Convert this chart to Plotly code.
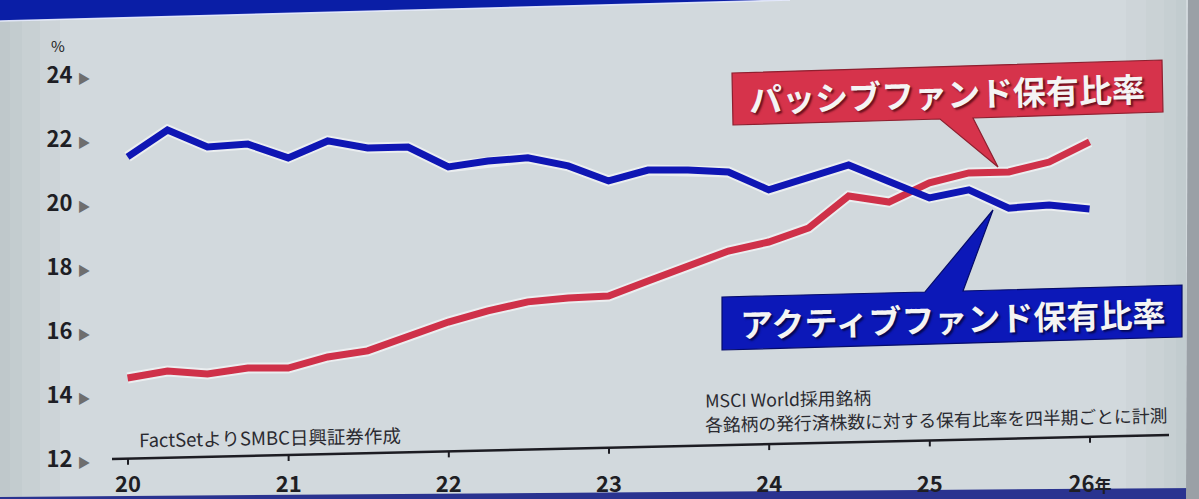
import plotly.graph_objects as go
import pandas as pd

# ---------------- data ----------------
quarters = ["2019-12-31", "2020-03-31", "2020-06-30", "2020-09-30", "2020-12-31",
            "2021-03-31", "2021-06-30", "2021-09-30", "2021-12-31",
            "2022-03-31", "2022-06-30", "2022-09-30", "2022-12-31",
            "2023-03-31", "2023-06-30", "2023-09-30", "2023-12-31",
            "2024-03-31", "2024-06-30", "2024-09-30", "2024-12-31",
            "2025-03-31", "2025-06-30", "2025-09-30", "2025-12-31"]
active_share = [21.44, 22.28, 21.75, 21.84, 21.41, 21.94, 21.72, 21.75, 21.13,
                21.31, 21.41, 21.16, 20.69, 21.03, 21.03, 20.97, 20.41, 20.78,
                21.19, 20.67, 20.16, 20.41, 19.84, 19.94, 19.81]
passive_share = [14.53, 14.75, 14.66, 14.84, 14.84, 15.19, 15.38, 15.84, 16.28,
                 16.63, 16.91, 17.03, 17.09, 17.56, 18.03, 18.50, 18.78, 19.22,
                 20.22, 20.03, 20.63, 20.94, 20.97, 21.28, 21.91]
year_tick_dates = ["2020-01-01", "2021-01-01", "2022-01-01", "2023-01-01",
                   "2024-01-01", "2025-01-01", "2026-01-01"]
year_tick_labels = ["20", "21", "22", "23", "24", "25", "26<span style='font-size:17px'>年</span>"]
y_tick_values = [12, 14, 16, 18, 20, 22, 24]
y_tick_labels = [f"{v} <span style='font-size:13px;color:#6e6e6e'>▶</span>" for v in y_tick_values]

passive_label = "パッシブファンド保有比率"
active_label = "アクティブファンド保有比率"
source_note = "FactSetよりSMBC日興証券作成"
note_line1 = "MSCI World採用銘柄"
note_line2 = "各銘柄の発行済株数に対する保有比率を四半期ごとに計測"

# ---------------- layout helpers (pixel -> paper) ----------------
W, H = 1199, 499
def px(x):
    return x / W
def py(y):
    return 1 - y / H

PLOT_L, PLOT_R = 112, 1169
Y_TOP, Y_BOT = 75, 459          # pixel rows of 24 and 12
X20, X26 = 128, 1090            # pixel columns of 2020 and 2026 ticks
t20 = pd.Timestamp("2020-01-01")
t26 = pd.Timestamp("2026-01-01")
ppd = (X26 - X20) / (t26 - t20).days
x_start = t20 - pd.Timedelta(days=(X20 - PLOT_L) / ppd)
x_end = t26 + pd.Timedelta(days=(PLOT_R - X26) / ppd)

def axis_y(xp):  # the photographed axis line is slightly tilted
    return 459 - 24 * (xp - 112) / 1057

FONT = "Noto Sans CJK JP"
BLUE = "#0f16b4"
RED = "#cf3149"

fig = go.Figure()

# light halo under the lines
for ys in (passive_share, active_share):
    fig.add_trace(go.Scatter(x=quarters, y=ys, mode="lines",
                             line=dict(color="rgba(255,255,255,0.55)", width=11),
                             hoverinfo="skip", showlegend=False))
fig.add_trace(go.Scatter(x=quarters, y=passive_share, mode="lines", name=passive_label,
                         line=dict(color=RED, width=7), showlegend=False))
fig.add_trace(go.Scatter(x=quarters, y=active_share, mode="lines", name=active_label,
                         line=dict(color=BLUE, width=7), showlegend=False))

shapes = []
# subtle vignette toward the left and right edges of the photographed screen
for i, w in enumerate([60, 40, 22, 10]):
    shapes.append(dict(type="rect", xref="paper", yref="paper",
                       x0=0, x1=px(w), y0=0, y1=1, fillcolor="#8f969b",
                       opacity=0.07, line=dict(width=0), layer="below"))
    shapes.append(dict(type="rect", xref="paper", yref="paper",
                       x0=px(1186 - w), x1=px(1186), y0=0, y1=1, fillcolor="#8f969b",
                       opacity=0.05, line=dict(width=0), layer="below"))
# top blue frame wedge
shapes.append(dict(type="path", xref="paper", yref="paper",
                   path=f"M 0 1 L {px(790)} 1 L 0 {py(21)} Z",
                   fillcolor="#0a1ea6", line=dict(width=0), layer="below"))
shapes.append(dict(type="line", xref="paper", yref="paper",
                   x0=0, y0=py(21), x1=px(790), y1=1,
                   line=dict(color="rgba(235,240,255,0.9)", width=1.5), layer="below"))
# bottom frame strip
shapes.append(dict(type="path", xref="paper", yref="paper",
                   path=f"M 0 0 L 1 0 L 1 {py(488)} L 0 {py(497)} Z",
                   fillcolor="#2a3390", line=dict(width=0), layer="below"))
# right edge shading
shapes.append(dict(type="path", xref="paper", yref="paper",
                   path=f"M {px(1188)} 1 L 1 1 L 1 0 L {px(1186)} 0 Z",
                   fillcolor="#9aa0a6", line=dict(width=0), layer="below"))

# tilted x-axis line
shapes.append(dict(type="line", xref="paper", yref="paper",
                   x0=px(112), y0=py(459), x1=px(1169), y1=py(435),
                   line=dict(color="#1c1c22", width=2.5)))
# tick marks along the tilted line
for d in year_tick_dates:
    xp = X20 + (pd.Timestamp(d) - t20).days * ppd
    yl = axis_y(xp)
    shapes.append(dict(type="line", xref="x", yref="paper",
                       x0=d, x1=d, y0=py(yl), y1=py(yl + 6),
                       line=dict(color="#1c1c22", width=2)))

# red callout box with pointer
shapes.append(dict(type="path", xref="paper", yref="paper",
                   path=(f"M {px(732)} {py(73)} L {px(1162)} {py(60)} L {px(1163)} {py(112)} "
                         f"L {px(973)} {py(118)} L {px(998)} {py(167)} L {px(940)} {py(119)} "
                         f"L {px(733)} {py(125)} Z"),
                   fillcolor="#d6334b", line=dict(color="#8e1f2f", width=1.2), layer="above"))
# blue callout box with pointer
shapes.append(dict(type="path", xref="paper", yref="paper",
                   path=(f"M {px(722)} {py(297)} L {px(925)} {py(292)} L {px(993)} {py(210)} "
                         f"L {px(963)} {py(291)} L {px(1182)} {py(285)} L {px(1182)} {py(337)} "
                         f"L {px(722)} {py(350)} Z"),
                   fillcolor="#0c18b8", line=dict(color="#060c6a", width=1.2), layer="above"))

def note(text, x, y, size, xanchor="center", angle=0, **font_kw):
    return dict(text=text, x=px(x), y=py(y), xref="paper", yref="paper", showarrow=False,
                xanchor=xanchor, yanchor="middle", textangle=angle,
                font=dict(family=FONT, size=size, **font_kw))

annotations = [
    note("%", 58, 46, 15, color="#222"),
    note(passive_label, 947, 93, 33, angle=-1.6, color="#f4f4f4", weight="bold",
         shadow="2px 2px 2px rgba(60,0,10,0.7)"),
    note(active_label, 952, 318, 33, angle=-1.5, color="#f4f4f4", weight="bold",
         shadow="2px 2px 2px rgba(0,0,40,0.7)"),
    note(source_note, 137, 437, 18.5, xanchor="left", angle=-1.0, color="#2a2a30"),
    note(note_line1, 703, 398, 17.8, xanchor="left", angle=-1.0, color="#2a2a30"),
    note(note_line2, 703, 419, 17.8, xanchor="left", angle=-1.2, color="#2a2a30"),
]

fig.update_layout(
    width=W, height=H,
    margin=dict(l=0, r=0, t=0, b=0, autoexpand=False),
    paper_bgcolor="#d2d9dd",
    plot_bgcolor="rgba(0,0,0,0)",
    shapes=shapes,
    annotations=annotations,
    xaxis=dict(domain=[px(PLOT_L), px(PLOT_R)], type="date", automargin=False,
               range=[x_start.strftime("%Y-%m-%d %H:%M"), x_end.strftime("%Y-%m-%d %H:%M")],
               tickmode="array", tickvals=year_tick_dates, ticktext=year_tick_labels,
               ticks="outside", ticklen=6, tickcolor="rgba(0,0,0,0)",
               showgrid=False, zeroline=False, showline=False,
               tickfont=dict(family=FONT, size=22, color="#1e1e24", weight="bold")),
    yaxis=dict(domain=[py(Y_BOT), py(Y_TOP)], range=[12, 24], automargin=False,
               tickmode="array", tickvals=y_tick_values, ticktext=y_tick_labels,
               ticks="outside", ticklen=16, tickcolor="rgba(0,0,0,0)",
               showgrid=False, zeroline=False, showline=False,
               tickfont=dict(family=FONT, size=22, color="#1e1e24", weight="bold")),
    showlegend=False,
)

fig.write_html("out.html")
